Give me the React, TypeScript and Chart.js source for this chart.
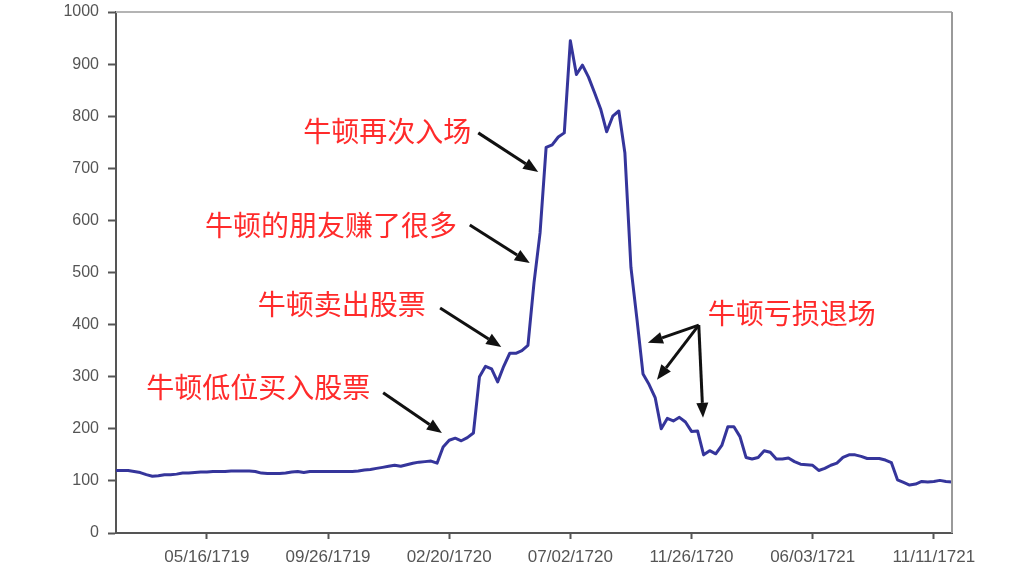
import React, { useEffect, useRef } from "react";
import { Chart, registerables } from "chart.js";

Chart.register(...registerables);

// Price series (one point per sampled week)
const prices: number[] = [
  120, 120, 120, 118, 116, 112, 109, 110, 112, 112,
  113, 115, 115, 116, 117, 117, 118, 118, 118, 119,
  119, 119, 119, 118, 115, 114, 114, 114, 115, 117,
  118, 116, 118, 118, 118, 118, 118, 118, 118, 118,
  119, 121, 122, 124, 126, 128, 130, 128, 131, 134,
  136, 137, 138, 134, 165, 178, 182, 177, 183, 192,
  300, 320, 315, 290, 320, 345, 345, 350, 360, 480,
  576, 740, 745, 760, 768, 945, 880, 898, 875, 845,
  814, 770, 800, 810, 730, 510, 410, 305, 285, 260,
  200, 220, 215, 222, 213, 195, 196, 150, 158, 152,
  168, 204, 204, 185, 145, 142, 145, 158, 155, 142,
  142, 144, 137, 132, 131, 130, 120, 124, 130, 134,
  145, 150, 150, 147, 143, 143, 143, 140, 135, 102,
  97, 92, 94, 99, 98, 99, 101, 99, 98,
];

// Category positions of the date ticks and their labels
const tickIndices: number[] = [15, 35, 55, 75, 95, 115, 135];
const tickLabels: string[] = [
  "05/16/1719",
  "09/26/1719",
  "02/20/1720",
  "07/02/1720",
  "11/26/1720",
  "06/03/1721",
  "11/11/1721",
];
const yTicks: number[] = [0, 100, 200, 300, 400, 500, 600, 700, 800, 900, 1000];

// Annotation texts, anchored in data space (index, value)
const noteTexts: string[] = [
  "牛顿再次入场",
  "牛顿的朋友赚了很多",
  "牛顿卖出股票",
  "牛顿低位买入股票",
  "牛顿亏损退场",
];
const noteAnchors: [number, number][] = [
  [30.9, 770],
  [14.7, 591],
  [23.4, 438],
  [5.0, 280],
  [97.7, 422],
];
// Arrows: [fromIdx, fromVal, toIdx, toVal]
const arrows: [number, number, number, number][] = [
  [59.8, 768, 69.7, 693],
  [58.4, 591, 68.3, 518],
  [53.5, 432, 63.6, 357],
  [44.1, 269, 53.8, 192],
  [96.2, 399, 87.8, 365],
  [96.2, 399, 89.3, 294],
  [96.2, 399, 96.9, 221],
];

const annotationPlugin = {
  id: "notes",
  afterDraw(chart: any) {
    const { ctx, scales, chartArea } = chart;
    const xs = scales.x;
    const ys = scales.y;
    ctx.save();
    // top and right frame
    ctx.strokeStyle = "#b4b4b4";
    ctx.lineWidth = 2;
    ctx.beginPath();
    ctx.moveTo(chartArea.left, chartArea.top);
    ctx.lineTo(chartArea.right, chartArea.top);
    ctx.stroke();
    ctx.strokeStyle = "#9a9a9a";
    ctx.beginPath();
    ctx.moveTo(chartArea.right, chartArea.top);
    ctx.lineTo(chartArea.right, chartArea.bottom);
    ctx.stroke();

    // texts
    ctx.font = '28px "Noto Sans CJK SC"';
    ctx.fillStyle = "#ff2b2b";
    ctx.textAlign = "left";
    ctx.textBaseline = "middle";
    noteTexts.forEach((t, i) => {
      const [ix, v] = noteAnchors[i];
      ctx.fillText(t, xs.getPixelForValue(ix), ys.getPixelForValue(v));
    });

    // arrows
    ctx.strokeStyle = "#111";
    ctx.fillStyle = "#111";
    ctx.lineWidth = 3;
    arrows.forEach(([a, b, c, d]) => {
      const x1 = xs.getPixelForValue(a);
      const y1 = ys.getPixelForValue(b);
      const x2 = xs.getPixelForValue(c);
      const y2 = ys.getPixelForValue(d);
      const ang = Math.atan2(y2 - y1, x2 - x1);
      const head = 15;
      const half = 6;
      const bx = x2 - head * Math.cos(ang);
      const by = y2 - head * Math.sin(ang);
      ctx.beginPath();
      ctx.moveTo(x1, y1);
      ctx.lineTo(bx, by);
      ctx.stroke();
      ctx.beginPath();
      ctx.moveTo(x2, y2);
      ctx.lineTo(bx + half * Math.sin(ang), by - half * Math.cos(ang));
      ctx.lineTo(bx - half * Math.sin(ang), by + half * Math.cos(ang));
      ctx.closePath();
      ctx.fill();
    });
    ctx.restore();
  },
};

export default function App() {
  const ref = useRef<HTMLCanvasElement | null>(null);
  useEffect(() => {
    if (!ref.current) return;
    const chart = new Chart(ref.current, {
      type: "line",
      data: {
        datasets: [
          {
            data: prices.map((v, i) => ({ x: i, y: v })),
            borderColor: "#35359b",
            borderWidth: 3,
            borderJoinStyle: "round",
            pointRadius: 0,
            tension: 0,
            fill: false,
          },
        ],
      },
      options: {
        animation: false,
        responsive: true,
        maintainAspectRatio: false,
        layout: { padding: { left: 0, top: 12, right: 72, bottom: 0 } },
        plugins: { legend: { display: false }, tooltip: { enabled: false } },
        scales: {
          x: {
            type: "linear",
            min: 0,
            max: prices.length - 1,
            afterBuildTicks: (s: any) => {
              s.ticks = tickIndices.map((v) => ({ value: v }));
            },
            afterFit: (s: any) => {
              s.height = 43;
              s.paddingLeft = 0;
              s.paddingRight = 0;
            },
            grid: {
              drawOnChartArea: false,
              drawTicks: true,
              tickLength: 6,
              tickColor: "#555",
              tickWidth: 2,
            },
            border: { display: true, color: "#555", width: 2 },
            ticks: {
              autoSkip: false,
              maxRotation: 0,
              padding: 8,
              color: "#555",
              font: { family: '"Liberation Sans", Arial', size: 17 },
              callback: (v: any) => {
                const k = tickIndices.indexOf(Number(v));
                return k >= 0 ? tickLabels[k] : "";
              },
            },
          },
          y: {
            min: 0,
            max: 1000,
            afterBuildTicks: (s: any) => {
              s.ticks = yTicks.map((v) => ({ value: v }));
            },
            afterFit: (s: any) => {
              s.width = 116;
              s.paddingTop = 0;
              s.paddingBottom = 0;
            },
            grid: {
              drawOnChartArea: false,
              drawTicks: true,
              tickLength: 8,
              tickColor: "#555",
              tickWidth: 2,
            },
            border: { display: true, color: "#555", width: 2 },
            ticks: {
              padding: 9,
              color: "#555",
              font: { family: '"Liberation Sans", Arial', size: 16 },
              callback: (v: any) => String(v),
            },
          },
        },
      },
      plugins: [annotationPlugin],
    });
    return () => chart.destroy();
  }, []);
  return (
    <div
      style={{
        position: "absolute",
        left: 0,
        top: 0,
        width: 1024,
        height: 576,
        background: "#fff",
      }}
    >
      <canvas ref={ref} />
    </div>
  );
}
